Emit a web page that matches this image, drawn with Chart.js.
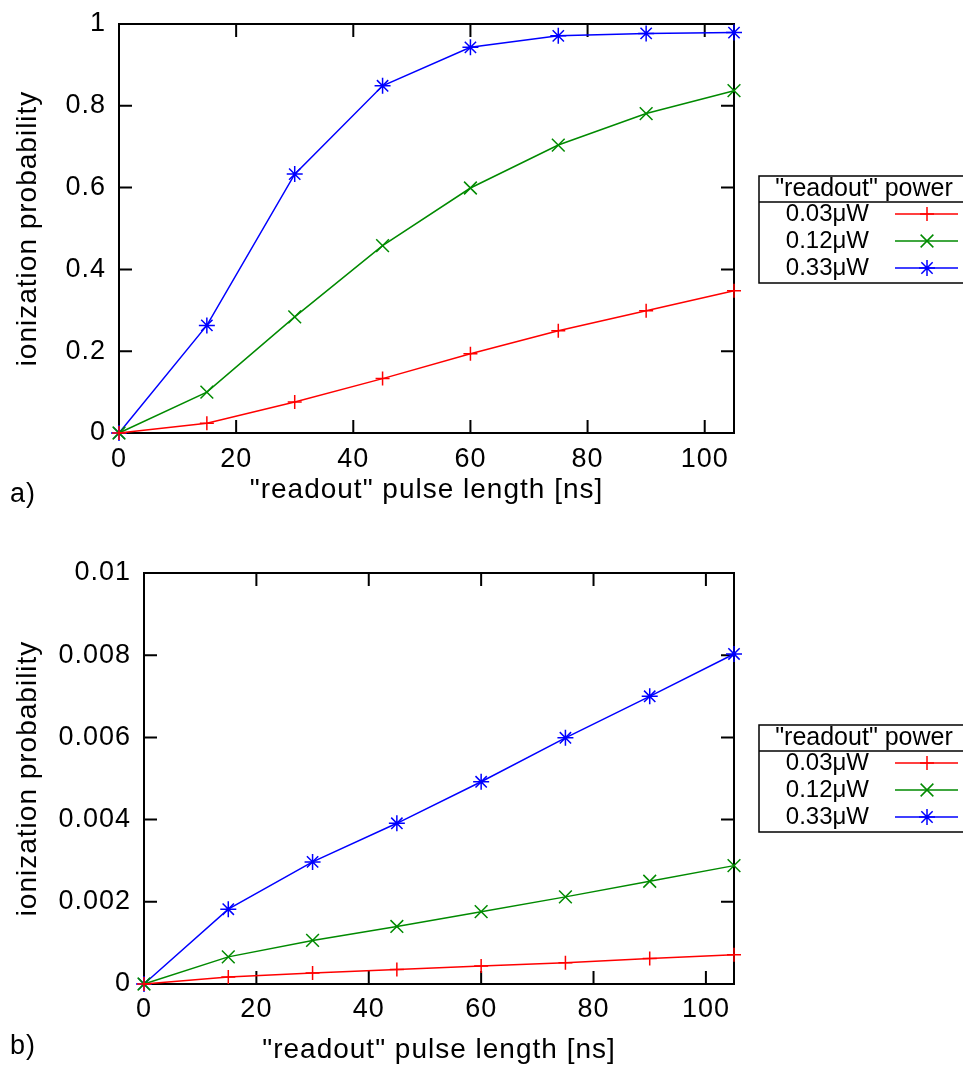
<!DOCTYPE html>
<html>
<head>
<meta charset="utf-8">
<script src="https://cdn.jsdelivr.net/npm/chart.js@4.4.0/dist/chart.umd.min.js"></script>
<style>
  body { margin: 0; background: #fff; }
  #wrap { position: relative; width: 963px; height: 1068px; }
  canvas { position: absolute; left: 0; }
</style>
</head>
<body>
<div id="wrap">
  <canvas id="chartA" width="963" height="534" style="top:0"></canvas>
  <canvas id="chartB" width="963" height="534" style="top:534px"></canvas>
</div>
<script>
// datos
const pulseLength = [0, 15, 30, 45, 60, 75, 90, 105];
const powerLabels = ["0.03μW", "0.12μW", "0.33μW"];

// panel a)
const probA_003 = [0, 0.024, 0.076, 0.133, 0.194, 0.250, 0.299, 0.348];
const probA_012 = [0, 0.100, 0.284, 0.458, 0.599, 0.704, 0.781, 0.837];
const probA_033 = [0, 0.263, 0.633, 0.849, 0.943, 0.971, 0.977, 0.979];

// panel b)
const probB_003 = [0, 0.00017, 0.00027, 0.00035, 0.00044, 0.00052, 0.00062, 0.00071];
const probB_012 = [0, 0.00066, 0.00106, 0.00140, 0.00176, 0.00212, 0.00250, 0.00288];
const probB_033 = [0, 0.00182, 0.00297, 0.00391, 0.00492, 0.00599, 0.00700, 0.00803];

const xTicks = [0, 20, 40, 60, 80, 100];
const yTicksA = [0, 0.2, 0.4, 0.6, 0.8, 1];
const yTicksB = [0, 0.002, 0.004, 0.006, 0.008, 0.01];

const colores = ["#ff0000", "#008a00", "#0000ff"];
const estilos = ["cross", "crossRot", "star"];
const radios = [7, 9, 8];

Chart.defaults.font.family = '"Liberation Sans", Arial, sans-serif';
Chart.defaults.color = "#000";

// marco, ticks interiores, leyenda y etiqueta del panel
const marcoPlugin = {
  id: "marco",
  beforeDraw(chart) {
    chart.ctx.letterSpacing = "1px";
  },
  beforeDatasetsDraw(chart) {
    const { ctx, chartArea: a, scales } = chart;
    ctx.save();
    ctx.strokeStyle = "#000";
    ctx.lineWidth = 2;
    ctx.strokeRect(a.left, a.top, a.right - a.left, a.bottom - a.top);
    ctx.beginPath();
    scales.x.ticks.forEach((t) => {
      const px = scales.x.getPixelForValue(t.value);
      if (px <= a.left + 1 || px >= a.right - 1) return;
      ctx.moveTo(px, a.bottom); ctx.lineTo(px, a.bottom - 13);
      ctx.moveTo(px, a.top); ctx.lineTo(px, a.top + 13);
    });
    scales.y.ticks.forEach((t) => {
      const py = scales.y.getPixelForValue(t.value);
      if (py <= a.top + 1 || py >= a.bottom - 1) return;
      ctx.moveTo(a.left, py); ctx.lineTo(a.left + 13, py);
      ctx.moveTo(a.right, py); ctx.lineTo(a.right - 13, py);
    });
    ctx.stroke();
    ctx.restore();
  },
  afterDraw(chart, args, opts) {
    const ctx = chart.ctx;
    ctx.save();
    ctx.letterSpacing = "0px";
    const bx = 759, top = opts.boxTop;
    ctx.strokeStyle = "#000";
    ctx.lineWidth = 1.5;
    ctx.strokeRect(bx, top, 260, 107);
    ctx.beginPath();
    ctx.moveTo(bx, top + 26); ctx.lineTo(963, top + 26);
    ctx.stroke();
    ctx.fillStyle = "#000";
    ctx.font = '25px "Liberation Sans", Arial, sans-serif';
    ctx.textBaseline = "middle";
    ctx.textAlign = "center";
    ctx.fillText('"readout" power', 864, top + 13);
    ctx.font = '24px "Liberation Sans", Arial, sans-serif';
    chart.data.datasets.forEach((ds, i) => {
      const y = top + 38 + i * 27;
      ctx.fillStyle = "#000";
      ctx.textAlign = "right";
      ctx.fillText(ds.label, 869, y);
      ctx.strokeStyle = ds.borderColor;
      ctx.lineWidth = 1.5;
      ctx.beginPath();
      ctx.moveTo(895, y); ctx.lineTo(958, y);
      ctx.stroke();
      Chart.helpers.drawPoint(ctx, { pointStyle: ds.pointStyle, radius: ds.pointRadius, borderWidth: 1.5, rotation: 0 }, 927, y);
    });
    ctx.font = '27px "Liberation Sans", Arial, sans-serif';
    ctx.letterSpacing = "1px";
    ctx.fillStyle = "#000";
    ctx.textAlign = "left";
    ctx.fillText(opts.panel, 10, opts.panelY);
    ctx.restore();
  },
};

function crearGrafico(id, series, yTicks, yMax, g) {
  const datasets = series.map((vals, i) => ({
    label: powerLabels[i],
    data: pulseLength.map((x, j) => ({ x: x, y: vals[j] })),
    borderColor: colores[i],
    backgroundColor: colores[i],
    borderWidth: 1.5,
    pointStyle: estilos[i],
    pointRadius: radios[i],
    pointBorderWidth: 1.5,
    tension: 0,
    clip: 12,
  }));
  return new Chart(document.getElementById(id), {
    type: "line",
    data: { datasets: datasets },
    options: {
      responsive: false,
      animation: false,
      devicePixelRatio: 1,
      layout: { padding: { left: 0, top: g.top, right: 963 - g.right, bottom: 0 } },
      plugins: {
        legend: { display: false },
        tooltip: { enabled: false },
        marco: { boxTop: g.boxTop, panel: g.panel, panelY: g.panelY },
      },
      scales: {
        x: {
          type: "linear",
          min: 0,
          max: 105,
          afterBuildTicks: (s) => { s.ticks = xTicks.map((v) => ({ value: v })); },
          afterFit: (s) => { s.height = 534 - g.bottom; },
          grid: { display: false },
          border: { display: false },
          ticks: { font: { size: 27 }, padding: g.xTickPad, maxRotation: 0, autoSkip: false, callback: (v) => String(v) },
          title: { display: true, text: '"readout" pulse length [ns]', font: { size: 28 }, padding: { top: 0, bottom: g.xTitlePad } },
        },
        y: {
          type: "linear",
          min: 0,
          max: yMax,
          afterBuildTicks: (s) => { s.ticks = yTicks.map((v) => ({ value: v })); },
          afterFit: (s) => { s.width = g.left; },
          grid: { display: false },
          border: { display: false },
          ticks: { font: { size: 27 }, padding: g.yTickPad, autoSkip: false, callback: (v) => String(v) },
          title: { display: true, text: "ionization probability", font: { size: 28 }, padding: { top: 11, bottom: 0 } },
        },
      },
    },
    plugins: [marcoPlugin],
  });
}

crearGrafico("chartA", [probA_003, probA_012, probA_033], yTicksA, 1, {
  left: 119, right: 734, top: 24, bottom: 433,
  yTickPad: 5, xTickPad: 2, xTitlePad: 27, boxTop: 176, panel: "a)", panelY: 495,
});

crearGrafico("chartB", [probB_003, probB_012, probB_033], yTicksB, 0.01, {
  left: 144, right: 734, top: 39, bottom: 450,
  yTickPad: 5, xTickPad: 1, xTitlePad: 1, boxTop: 191, panel: "b)", panelY: 513,
});
</script>
</body>
</html>
